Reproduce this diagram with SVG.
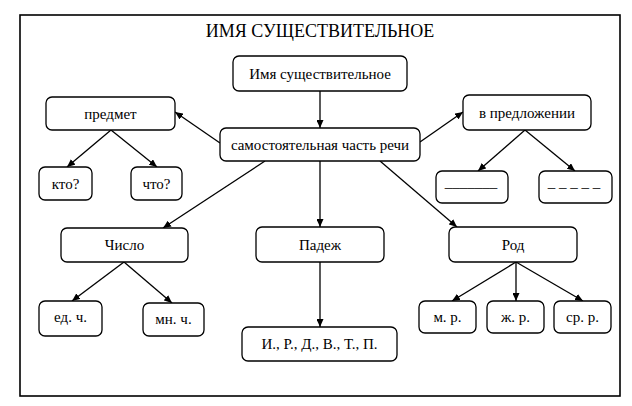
<svg xmlns="http://www.w3.org/2000/svg" width="632" height="406" viewBox="0 0 632 406" font-family="Liberation Serif, serif">
<style>
.box{fill:#fff;stroke:#000;stroke-width:1.3}
.t{font-size:15px;text-anchor:middle;fill:#000}
.c line{stroke:#000;stroke-width:1.3;marker-end:url(#ah)}
</style>
<defs>
<marker id="ah" markerUnits="userSpaceOnUse" markerWidth="9" markerHeight="7" refX="8" refY="3.5" orient="auto">
<path d="M0,0 L8,3.5 L0,7 z" fill="#000"/>
</marker>
</defs>
<rect width="632" height="406" fill="#fff"/>
<rect x="20" y="15" width="600" height="381" fill="none" stroke="#000" stroke-width="1.6"/>
<text class="t" x="320" y="37" font-family="Liberation Serif" style="font-size:18px">ИМЯ  СУЩЕСТВИТЕЛЬНОЕ</text>
<g class="c" id="connectors">
<line x1="320" y1="91" x2="320" y2="128"/>
<line x1="220" y1="143" x2="175" y2="112"/>
<line x1="420" y1="142" x2="463" y2="112"/>
<line x1="265" y1="161" x2="163" y2="228"/>
<line x1="320" y1="161" x2="320" y2="227"/>
<line x1="380" y1="161" x2="457" y2="227"/>
<line x1="111" y1="130" x2="67" y2="167"/>
<line x1="111" y1="130" x2="157" y2="167"/>
<line x1="525" y1="130" x2="478" y2="171"/>
<line x1="525" y1="130" x2="575" y2="171"/>
<line x1="124" y1="262" x2="72" y2="301"/>
<line x1="124" y1="262" x2="172" y2="303"/>
<line x1="320" y1="262" x2="320" y2="327"/>
<line x1="516" y1="262" x2="452" y2="301"/>
<line x1="516" y1="262" x2="516" y2="301"/>
<line x1="516" y1="262" x2="583" y2="301"/>
</g>
<g id="n_ims" font-family="Liberation Serif"><rect class="box" x="233" y="56" width="174" height="35" rx="6"/><text class="t" x="320" y="78.5">Имя существительное</text></g>
<g id="n_samost" font-family="Liberation Serif"><rect class="box" x="220" y="128" width="200" height="33" rx="6"/><text class="t" x="320" y="149.5">самостоятельная часть речи</text></g>
<g id="n_predmet" font-family="Liberation Serif"><rect class="box" x="46" y="97" width="129" height="33" rx="6"/><text class="t" x="110.5" y="118.5">предмет</text></g>
<g id="n_vpredl" font-family="Liberation Serif"><rect class="box" x="463" y="95" width="128" height="35" rx="6"/><text class="t" x="527" y="117.5">в предложении</text></g>
<g id="n_kto" font-family="Liberation Serif"><rect class="box" x="39" y="167" width="53" height="33" rx="6"/><text class="t" x="65.5" y="188.5">кто?</text></g>
<g id="n_chto" font-family="Liberation Serif"><rect class="box" x="131" y="167" width="51" height="33" rx="6"/><text class="t" x="156.5" y="188.5">что?</text></g>
<g id="n_solid" font-family="Liberation Serif"><rect class="box" x="436" y="171" width="72" height="32" rx="6"/><text class="t" x="471" y="187">_______</text></g>
<g id="n_dash" font-family="Liberation Serif"><rect class="box" x="539" y="171" width="73" height="32" rx="6"/><text class="t" x="574" y="187">_ _ _ _ _</text></g>
<g id="n_chislo" font-family="Liberation Serif"><rect class="box" x="61" y="228" width="127" height="34" rx="6"/><text class="t" x="124.5" y="250">Число</text></g>
<g id="n_padezh" font-family="Liberation Serif"><rect class="box" x="256" y="227" width="128" height="35" rx="6"/><text class="t" x="320" y="249.5">Падеж</text></g>
<g id="n_rod" font-family="Liberation Serif"><rect class="box" x="449" y="227" width="128" height="35" rx="6"/><text class="t" x="513" y="249.5">Род</text></g>
<g id="n_ed" font-family="Liberation Serif"><rect class="box" x="39" y="301" width="63" height="35" rx="6"/><text class="t" x="70.5" y="322">ед. ч.</text></g>
<g id="n_mn" font-family="Liberation Serif"><rect class="box" x="143" y="303" width="61" height="33" rx="6"/><text class="t" x="173.5" y="324">мн. ч.</text></g>
<g id="n_cases" font-family="Liberation Serif"><rect class="box" x="242" y="327" width="155" height="34" rx="6"/><text class="t" x="319.5" y="349">И., Р., Д., В., Т., П.</text></g>
<g id="n_m" font-family="Liberation Serif"><rect class="box" x="419" y="301" width="57" height="32" rx="6"/><text class="t" x="447.5" y="322">м. р.</text></g>
<g id="n_zh" font-family="Liberation Serif"><rect class="box" x="487" y="301" width="57" height="32" rx="6"/><text class="t" x="515.5" y="322">ж. р.</text></g>
<g id="n_sr" font-family="Liberation Serif"><rect class="box" x="554" y="301" width="57" height="32" rx="6"/><text class="t" x="582.5" y="322">ср. р.</text></g>
</svg>
